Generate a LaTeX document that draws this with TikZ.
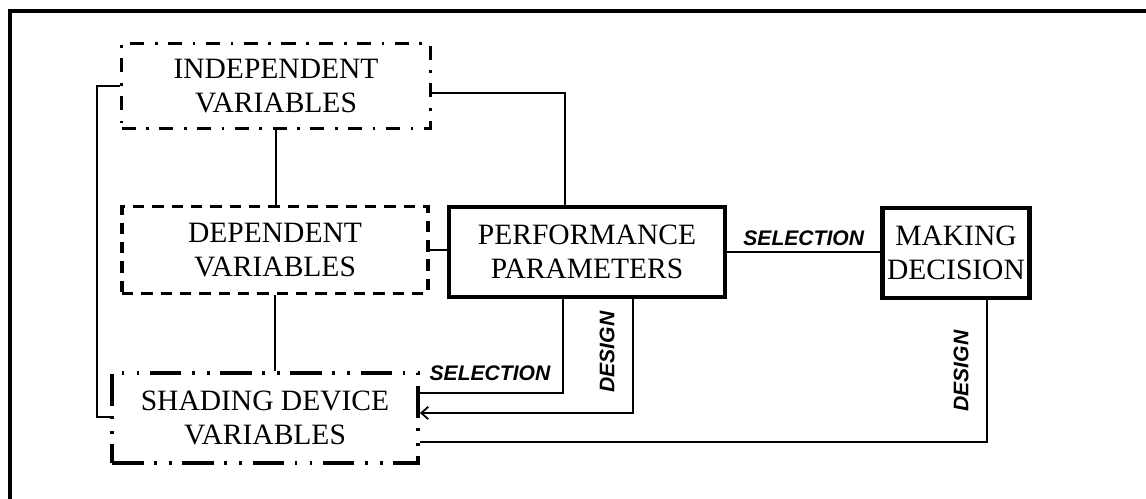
\documentclass[tikz,border=0pt]{standalone}
\usepackage{fontspec}
\setmainfont{Liberation Serif}
\newfontfamily\lblfont{Liberation Sans}
\usetikzlibrary{arrows.meta}

\begin{document}
\begin{tikzpicture}[x=0.02cm,y=-0.02cm,
  conn/.style={line width=1pt},
  box/.style={align=center,font=\fontsize{16.8}{19}\selectfont,inner sep=0pt},
  solidbox/.style={box,draw,line width=2.6pt},
  dashbox/.style={box,draw,line width=2.2pt,dash pattern=on 6.5pt off 4.5pt},
  dotdashbox/.style={box,draw,line width=2.2pt,dash pattern=on 8pt off 6pt on 1.5pt off 6pt},
  dotdotbox/.style={box,draw,line width=2.2pt,dash pattern=on 18pt off 6pt on 1.5pt off 7pt on 1.5pt off 6pt},
  lbl/.style={font=\lblfont\bfseries\itshape\fontsize{12}{12}\selectfont,inner sep=1pt}]
\useasboundingbox (0,0) rectangle (1146,499);

%frame:
\draw[line width=1.8pt] (10,499) -- (10,11) -- (1146,11);

%boxes:
\node[dotdashbox,minimum width=6.18cm,minimum height=1.7cm] (indep) at (276,86) {INDEPENDENT\\VARIABLES};
\node[dashbox,minimum width=6.12cm,minimum height=1.74cm] (dep) at (275,250) {DEPENDENT\\VARIABLES};
\node[solidbox,minimum width=5.52cm,minimum height=1.8cm] (perf) at (587,252) {PERFORMANCE\\PARAMETERS};
\node[solidbox,minimum width=2.94cm,minimum height=1.8cm] (dec) at (956,253) {MAKING\\DECISION};
\node[dotdotbox,minimum width=6.12cm,minimum height=1.8cm] (shade) at (265,418) {SHADING DEVICE\\VARIABLES};

%bends:
\coordinate (c1) at (565,93);
\coordinate (c2) at (97,86);
\coordinate (c3) at (97,417);
\coordinate (c4) at (563,393);
\coordinate (c5) at (633,413);
\coordinate (c6) at (987,442);

%links:
\draw[conn] (indep.south) -- (indep.south |- dep.north);
\draw[conn] (dep.south) -- (dep.south |- shade.north);
\draw[conn] (dep.east) -- (dep.east -| perf.west);
\draw[conn] (perf.east) -- (perf.east -| dec.west)
  node[lbl,midway,above=2pt] (sel1) {SELECTION};
\draw[conn] (c1 -| indep.east) -- (c1) -- (c1 |- perf.north);
\draw[conn] (c2 -| indep.west) -- (c2) -- (c3) -- (c3 -| shade.west);
\draw[conn] (c4 |- perf.south) -- (c4) -- (c4 -| shade.east);
\draw[conn,-{Straight Barb[length=4pt,width=7pt]}] (c5 |- perf.south) -- (c5) -- (c5 -| shade.east);
\draw[conn] (c6 |- dec.south) -- (c6) -- (c6 -| shade.east);

%labels:
\node[lbl] (sel2) at (490,373) {SELECTION};
\node[lbl,rotate=90] (des1) at (607,352) {DESIGN};
\node[lbl,rotate=90] (des2) at (961,371) {DESIGN};

\end{tikzpicture}
\end{document}
